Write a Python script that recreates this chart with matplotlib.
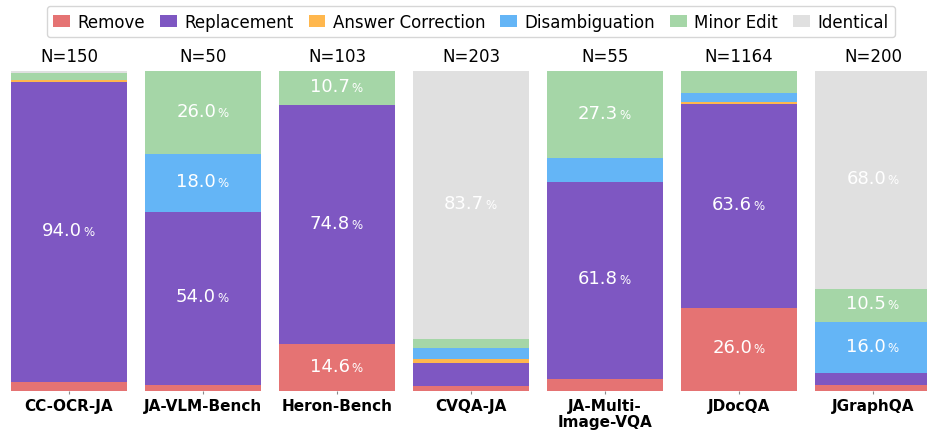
import matplotlib.pyplot as plt
import numpy as np

plt.rcParams["font.family"] = ["DejaVu Sans"]

# datasets and sample counts
datasets = ["CC-OCR-JA", "JA-VLM-Bench", "Heron-Bench", "CVQA-JA",
            "JA-Multi-\nImage-VQA", "JDocQA", "JGraphQA"]
counts = [150, 50, 103, 203, 55, 1164, 200]

categories = ["Remove", "Replacement", "Answer Correction",
              "Disambiguation", "Minor Edit", "Identical"]
colors = ["#e57373", "#7e57c2", "#ffb74d", "#64b5f6", "#a5d6a7", "#e0e0e0"]

# percentages per category (bottom to top), one value per dataset
remove = [2.67, 2.0, 14.6, 1.48, 3.64, 26.0, 2.0]
replacement = [94.0, 54.0, 74.8, 7.39, 61.8, 63.6, 3.5]
answer_corr = [0.67, 0.0, 0.0, 0.99, 0.0, 0.8, 0.0]
disamb = [0.0, 18.0, 0.0, 3.45, 7.27, 2.6, 16.0]
minor_edit = [2.0, 26.0, 10.7, 2.96, 27.3, 7.0, 10.5]
identical = [0.67, 0.0, 0.0, 83.7, 0.0, 0.0, 68.0]

series = [remove, replacement, answer_corr, disamb, minor_edit, identical]

fig = plt.figure(figsize=(9.27, 4.31), dpi=100)
ax = fig.add_axes([0, 39 / 431, 1, 320 / 431])

x = np.arange(len(datasets))
bottom = np.zeros(len(datasets))
for name, vals, col in zip(categories, series, colors):
    vals = np.array(vals)
    ax.bar(x, vals, width=0.866, bottom=bottom, color=col, label=name)
    for i, v in enumerate(vals):
        if v >= 10:
            yc = bottom[i] + v / 2
            # number + smaller percent sign
            ax.annotate(f"{v:.1f}", (x[i], yc), xytext=(13, -3),
                        textcoords="offset pixels", ha="right", va="baseline",
                        color="white", fontsize=13)
            ax.annotate("%", (x[i], yc), xytext=(14, -3),
                        textcoords="offset pixels", ha="left", va="baseline",
                        color="white", fontsize=8.5)
    bottom += vals

for i, n in enumerate(counts):
    ax.text(x[i], 103.1, f"N={n}", ha="center", va="baseline", fontsize=12)

ax.set_xlim(-69 / 134, (927 - 69) / 134)
ax.set_ylim(0, 100)
ax.set_xticks(x)
ax.set_xticklabels(datasets, fontsize=11, fontweight="bold", linespacing=1.05)
ax.tick_params(axis="x", length=2.5, color="#888888", pad=2.5)
ax.set_yticks([])
for s in ax.spines.values():
    s.set_visible(False)

fig.legend(loc="upper center", bbox_to_anchor=(0.508, 0.984), ncol=6,
           fontsize=12, handlelength=1.0, handleheight=0.7,
           handletextpad=0.45, columnspacing=0.9, borderpad=0.4,
           borderaxespad=0, frameon=True, fancybox=True)

fig.savefig("out.png", dpi=100)
